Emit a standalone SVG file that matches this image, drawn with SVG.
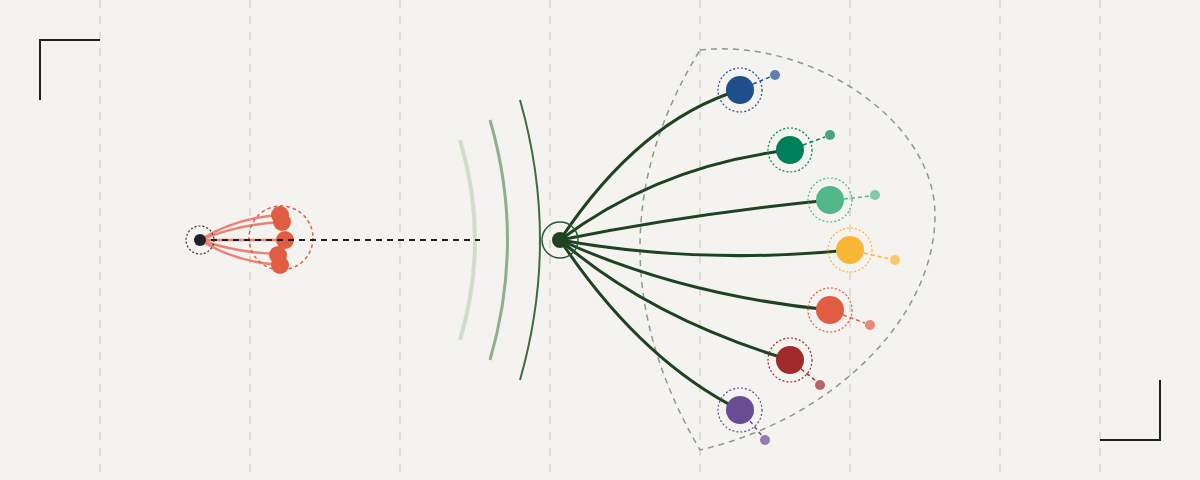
<svg xmlns="http://www.w3.org/2000/svg" width="1200" height="480" viewBox="0 0 1200 480">
  <style>
    .grid{stroke:#dddcd7;stroke-width:2;stroke-dasharray:8 8;fill:none}
    .corner{stroke:#1f2124;stroke-width:2;fill:none}
    .fan{stroke:#1d4321;stroke-width:3;fill:none;stroke-linecap:round}
    .red{stroke:#e8776a;stroke-width:2.5;fill:none;opacity:0.9}
    .ring{fill:none;stroke-width:1.2;stroke-dasharray:2 2}
    .sat{opacity:0.7}
    .link{stroke-width:1.5;stroke-dasharray:4 3;fill:none}
  </style>
  <rect width="1200" height="480" fill="#f4f3ef"/>
  <g id="grid">
    <line class="grid" x1="100" y1="0" x2="100" y2="480"/>
    <line class="grid" x1="250" y1="0" x2="250" y2="480"/>
    <line class="grid" x1="400" y1="0" x2="400" y2="480"/>
    <line class="grid" x1="550" y1="0" x2="550" y2="480"/>
    <line class="grid" x1="700" y1="0" x2="700" y2="480"/>
    <line class="grid" x1="850" y1="0" x2="850" y2="480"/>
    <line class="grid" x1="1000" y1="0" x2="1000" y2="480"/>
    <line class="grid" x1="1100" y1="0" x2="1100" y2="480"/>
  </g>
  <g id="corners">
    <path class="corner" d="M40 100 V40 H100"/>
    <path class="corner" d="M1100 440 H1160 V380"/>
  </g>
  <g id="region">
    <path d="M700 50 C810 38 935 120 935 215 C935 320 830 420 700 450 Q580 245 700 50 Z" fill="none" stroke="#8c9a8c" stroke-width="1.5" stroke-dasharray="6 5"/>
  </g>
  <g id="waves">
    <path d="M460 140 Q490 240 460 340" fill="none" stroke="#d1dccd" stroke-width="4"/>
    <path d="M490 120 Q525 240 490 360" fill="none" stroke="#8fb08f" stroke-width="3"/>
    <path d="M520 100 Q560 240 520 380" fill="none" stroke="#3f6b45" stroke-width="2"/>
  </g>
  <g id="connectors">
    <path class="red" d="M200 240 Q235 218 280 215"/>
    <path class="red" d="M200 240 Q240 224 282 222"/>
    <path class="red" d="M200 240 L285 240"/>
    <path class="red" d="M200 240 Q238 253 278 254"/>
    <path class="red" d="M200 240 Q235 262 280 265"/>
    <path class="fan" d="M560 240 Q640 120 740 90"/>
    <path class="fan" d="M560 240 Q660 165 790 150"/>
    <path class="fan" d="M560 240 Q690 214 830 200"/>
    <path class="fan" d="M560 240 Q700 265 850 250"/>
    <path class="fan" d="M560 240 Q680 295 830 310"/>
    <path class="fan" d="M560 240 Q650 318 790 360"/>
    <path class="fan" d="M560 240 Q640 360 740 410"/>
  </g>
  <g id="cluster">
    <circle cx="281" cy="238" r="32" fill="none" stroke="#e05d44" stroke-width="1.5" stroke-dasharray="3.5 3"/>
    <circle cx="280" cy="215" r="9" fill="#e05d44"/>
    <circle cx="282" cy="222" r="9" fill="#e05d44"/>
    <circle cx="285" cy="240" r="9" fill="#e05d44"/>
    <circle cx="278" cy="255" r="9" fill="#e05d44"/>
    <circle cx="280" cy="265" r="9" fill="#e05d44"/>
  </g>
  <g id="beam">
    <line x1="200" y1="240" x2="480" y2="240" stroke="#1f2124" stroke-width="2" stroke-dasharray="6 5"/>
  </g>
  <g id="source">
    <circle cx="200" cy="240" r="14" fill="none" stroke="#333" stroke-width="1.2" stroke-dasharray="2 2"/>
    <circle cx="200" cy="240" r="6" fill="#1f2124"/>
  </g>
  <g id="hub">
    <circle cx="560" cy="240" r="18" fill="none" stroke="#2d5a34" stroke-width="1.5"/>
    <circle cx="560" cy="240" r="8" fill="#1d4321"/>
  </g>
  <g id="node-blue">
    <line class="link" x1="753" y1="84" x2="770" y2="77" stroke="#1f4e8c"/>
    <circle class="ring" cx="740" cy="90" r="22" stroke="#1f4e8c"/>
    <circle cx="740" cy="90" r="14" fill="#1f4e8c"/>
    <circle class="sat" cx="775" cy="75" r="5" fill="#1f4e8c"/>
  </g>
  <g id="node-teal">
    <line class="link" x1="803" y1="145" x2="825" y2="137" stroke="#00805a"/>
    <circle class="ring" cx="790" cy="150" r="22" stroke="#00805a"/>
    <circle cx="790" cy="150" r="14" fill="#00805a"/>
    <circle class="sat" cx="830" cy="135" r="5" fill="#00805a"/>
  </g>
  <g id="node-green">
    <line class="link" x1="844" y1="199" x2="870" y2="196" stroke="#52b788"/>
    <circle class="ring" cx="830" cy="200" r="22" stroke="#52b788"/>
    <circle cx="830" cy="200" r="14" fill="#52b788"/>
    <circle class="sat" cx="875" cy="195" r="5" fill="#52b788"/>
  </g>
  <g id="node-yellow">
    <line class="link" x1="864" y1="253" x2="890" y2="259" stroke="#f8b637"/>
    <circle class="ring" cx="850" cy="250" r="22" stroke="#f8b637"/>
    <circle cx="850" cy="250" r="14" fill="#f8b637"/>
    <circle class="sat" cx="895" cy="260" r="5" fill="#f8b637"/>
  </g>
  <g id="node-orange">
    <line class="link" x1="843" y1="315" x2="865" y2="323" stroke="#e05d44"/>
    <circle class="ring" cx="830" cy="310" r="22" stroke="#e05d44"/>
    <circle cx="830" cy="310" r="14" fill="#e05d44"/>
    <circle class="sat" cx="870" cy="325" r="5" fill="#e05d44"/>
  </g>
  <g id="node-red">
    <line class="link" x1="801" y1="369" x2="816" y2="381" stroke="#9e2a2b"/>
    <circle class="ring" cx="790" cy="360" r="22" stroke="#9e2a2b"/>
    <circle cx="790" cy="360" r="14" fill="#9e2a2b"/>
    <circle class="sat" cx="820" cy="385" r="5" fill="#9e2a2b"/>
  </g>
  <g id="node-purple">
    <line class="link" x1="750" y1="421" x2="762" y2="436" stroke="#6a4c93"/>
    <circle class="ring" cx="740" cy="410" r="22" stroke="#6a4c93"/>
    <circle cx="740" cy="410" r="14" fill="#6a4c93"/>
    <circle class="sat" cx="765" cy="440" r="5" fill="#6a4c93"/>
  </g>
</svg>
